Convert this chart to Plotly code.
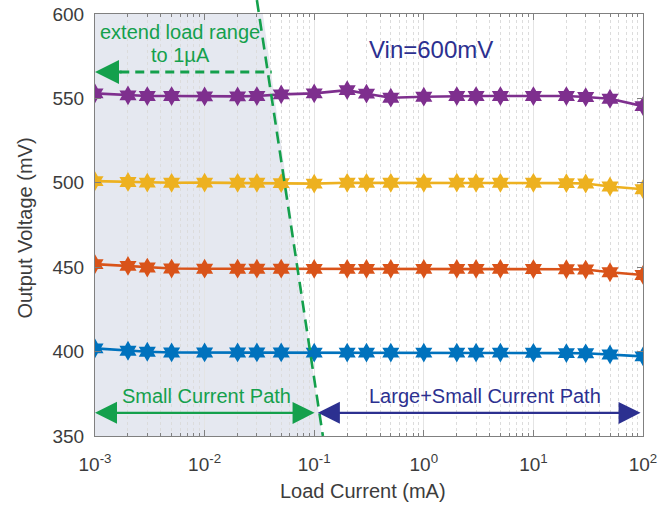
import math
import plotly.graph_objects as go

# ---------------- data ----------------
load_current_mA = [0.001, 0.002, 0.003, 0.005, 0.01, 0.02, 0.03, 0.05, 0.1, 0.2, 0.3,
                   0.5, 1, 2, 3, 5, 10, 20, 30, 50, 100]
vout_400 = [401.9, 400.5, 399.9, 399.5, 399.5, 399.5, 399.5, 399.5, 399.4, 399.4, 399.4,
            399.4, 399.4, 399.4, 399.4, 399.4, 399.3, 399.1, 399.0, 398.3, 397.2]
vout_450 = [451.8, 450.8, 449.8, 449.2, 449.1, 449.1, 449.1, 449.1, 449.0, 449.0, 449.0,
            449.0, 449.0, 449.0, 449.0, 449.0, 448.9, 448.8, 448.6, 447.0, 445.4]
vout_500 = [501.0, 500.5, 500.1, 500.0, 500.1, 500.0, 500.0, 499.8, 499.5, 500.0, 500.0,
            500.0, 500.0, 500.1, 500.0, 500.0, 500.0, 499.8, 499.6, 497.8, 496.2]
vout_550 = [553.0, 551.8, 551.4, 551.4, 551.2, 551.2, 551.4, 552.4, 553.0, 554.9, 552.8,
            550.4, 551.0, 551.4, 551.4, 551.4, 551.4, 551.4, 550.8, 549.8, 545.4]

series = [
    ("400 mV", vout_400, "#0072BD"),
    ("450 mV", vout_450, "#D95319"),
    ("500 mV", vout_500, "#EDB120"),
    ("550 mV", vout_550, "#7E2F8E"),
]

x_tick_vals = [0.001, 0.01, 0.1, 1, 10, 100]
x_tick_text = ["10<sup>-3</sup>", "10<sup>-2</sup>", "10<sup>-1</sup>",
               "10<sup>0</sup>", "10<sup>1</sup>", "10<sup>2</sup>"]
y_tick_vals = [350, 400, 450, 500, 550, 600]
minor_vals = [m * 10 ** e for e in range(-3, 2) for m in range(2, 10)]

# boundary of the small-current region (mA)
shade_top_mA, shade_bottom_mA = 0.034, 0.118
dash_top_mA, dash_bottom_mA = 0.030, 0.120
L = math.log10

GREEN = "#14a04c"
NAVY = "#2c3090"
TXT = "#3c3c3c"
FONT = "Liberation Sans, Arial, sans-serif"

fig = go.Figure()
for name, vals, col in series:
    fig.add_trace(go.Scatter(
        x=load_current_mA, y=vals, mode="lines+markers", name=name,
        line=dict(color=col, width=2.6),
        marker=dict(symbol="hexagram", size=15, color=col, line=dict(width=0)),
        showlegend=False))

shapes = [
    dict(type="path", xref="x", yref="y", layer="below", line=dict(width=0),
         fillcolor="#e5e8f0",
         path=f"M 0.001,350 L 0.001,600 L {shade_top_mA},600 "
              f"L {shade_bottom_mA},350 Z"),
    dict(type="line", xref="x", yref="paper", x0=dash_top_mA, y0=1.033,
         x1=dash_bottom_mA, y1=0.0, line=dict(color=GREEN, width=2.6, dash="12px,7px")),
    dict(type="line", xref="x", yref="y", x0=0.0017, y0=565.7, x1=0.041, y1=565.7,
         line=dict(color=GREEN, width=3, dash="9px,6px")),
]

annotations = [
    dict(text="extend load range", x=L(0.006), y=589.5, xref="x", yref="y",
         showarrow=False, font=dict(family=FONT, size=20, color=GREEN)),
    dict(text="to 1µA", x=L(0.006), y=576.0, xref="x", yref="y",
         showarrow=False, font=dict(family=FONT, size=20, color=GREEN)),
    dict(text="Vin=600mV", x=L(1.17), y=578.7, xref="x", yref="y",
         showarrow=False, font=dict(family=FONT, size=24, color=NAVY)),
    dict(text="Small Current Path", x=L(0.0103), y=373.5, xref="x", yref="y",
         showarrow=False, font=dict(family=FONT, size=20, color=GREEN)),
    dict(text="Large+Small Current Path", x=L(3.6), y=373.5, xref="x", yref="y",
         showarrow=False, font=dict(family=FONT, size=20, color=NAVY)),
    # dashed arrow head
    dict(text="", x=L(0.001), y=565.7, ax=L(0.0018), ay=565.7, xref="x", yref="y",
         axref="x", ayref="y", showarrow=True, arrowhead=2, arrowsize=1.6,
         arrowwidth=3, arrowcolor=GREEN),
    # double arrows
    dict(text="", x=L(0.001), y=363.7, ax=L(0.104), ay=363.7, xref="x", yref="y",
         axref="x", ayref="y", showarrow=True, arrowhead=2, arrowside="end+start",
         arrowsize=2.0, arrowwidth=2.2, arrowcolor=GREEN),
    dict(text="", x=L(0.108), y=363.7, ax=L(98), ay=363.7, xref="x", yref="y",
         axref="x", ayref="y", showarrow=True, arrowhead=2, arrowside="end+start",
         arrowsize=2.0, arrowwidth=2.2, arrowcolor=NAVY),
    # axis titles
    dict(text="Load Current (mA)", x=0.489, y=-0.131, xref="paper", yref="paper",
         xanchor="center", yanchor="middle",
         showarrow=False, font=dict(family=FONT, size=20, color=TXT)),
    dict(text="Output Voltage (mV)", x=-0.128, y=0.4935, xref="paper", yref="paper",
         xanchor="center", yanchor="middle",
         showarrow=False, textangle=-90, font=dict(family=FONT, size=20, color=TXT)),
]

fig.update_layout(
    width=659, height=508,
    margin=dict(l=95, r=16, t=14, b=72),
    paper_bgcolor="white", plot_bgcolor="white",
    shapes=shapes, annotations=annotations,
    font=dict(family=FONT, color=TXT),
)
fig.update_xaxes(
    type="log", range=[-3, 2], tickvals=x_tick_vals, ticktext=x_tick_text,
    tickfont=dict(family=FONT, size=19, color=TXT),
    ticks="inside", ticklen=6, tickcolor="#808080",
    showline=True, linecolor="#808080", linewidth=1, mirror="allticks",
    showgrid=True, gridcolor="#e4e4e4", gridwidth=1,
    minor=dict(tickvals=minor_vals, ticks="inside", ticklen=3, tickcolor="#808080",
               showgrid=True, gridcolor="#dcdcdc", griddash="dot", gridwidth=1),
    zeroline=False, automargin=False, ticklabelstandoff=11,
    ticklabeloverflow="allow",
)
fig.update_yaxes(
    range=[350, 600], tickvals=y_tick_vals,
    tickfont=dict(family=FONT, size=19, color=TXT),
    ticks="inside", ticklen=6, tickcolor="#808080",
    showline=True, linecolor="#808080", linewidth=1, mirror="allticks",
    showgrid=False, zeroline=False, automargin=False, ticklabelstandoff=6,
    ticklabeloverflow="allow",
)

# remove the browser's default 8px body margin so the figure fills the window
fig.write_html("out.html", config={"displayModeBar": False},
               post_script="document.body.style.margin='0';")
